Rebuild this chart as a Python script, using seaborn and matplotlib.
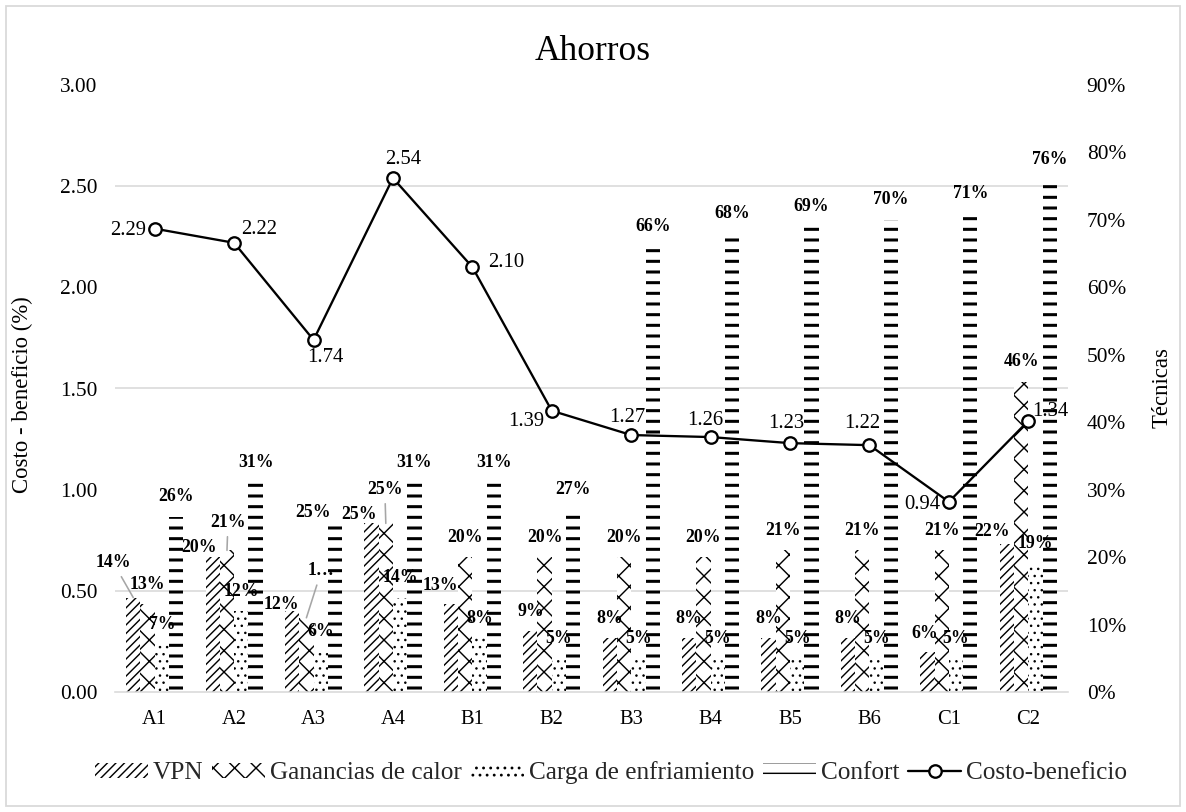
import numpy as np
import pandas as pd
import matplotlib
matplotlib.use("Agg")
import matplotlib.pyplot as plt
import seaborn as sns
from matplotlib.patches import Rectangle
from matplotlib.lines import Line2D
from matplotlib.ticker import MultipleLocator, FuncFormatter

# --- data -----------------------------------------------------------------
categorias = ["A1", "A2", "A3", "A4", "B1", "B2", "B3", "B4", "B5", "B6", "C1", "C2"]
vpn = [14, 20, 12, 25, 13, 9, 8, 8, 8, 8, 6, 22]
ganancias = [13, 21, 11, 25, 20, 20, 20, 20, 21, 21, 21, 46]
carga = [7, 12, 6, 14, 8, 5, 5, 5, 5, 5, 5, 19]
confort = [26, 31, 25, 31, 31, 27, 66, 68, 69, 70, 71, 76]
costo_beneficio = [2.29, 2.22, 1.74, 2.54, 2.10, 1.39, 1.27, 1.26, 1.23, 1.22, 0.94, 1.34]

series = ["VPN", "Ganancias de calor", "Carga de enfriamiento", "Confort"]
valores = dict(zip(series, [vpn, ganancias, carga, confort]))

# --- style ----------------------------------------------------------------
sns.set_theme(style="white")
plt.rcParams["font.family"] = ["Liberation Serif", "DejaVu Serif"]
plt.rcParams["hatch.linewidth"] = 0.8

DPI = 128
W, H = 1186, 812
PX = 72 / DPI  # one pixel in points
L, R, T, B = 115, 1068, 85, 692
GRID = "#d9d9d9"

fig = plt.figure(figsize=(W / DPI, H / DPI), dpi=DPI)
fig.patch.set_facecolor("white")
ax = fig.add_axes([L / W, 1 - B / H, (R - L) / W, (B - T) / H])
ax2 = ax.twinx()

# --- bars (right axis) ----------------------------------------------------
df = pd.DataFrame({
    "Técnica": np.tile(categorias, len(series)),
    "Serie": np.repeat(series, len(categorias)),
    "Valor": np.concatenate([valores[s] for s in series]),
})
sns.barplot(data=df, x="Técnica", y="Valor", hue="Serie", order=categorias,
            hue_order=series, palette={s: "white" for s in series},
            saturation=1, width=0.72, gap=0, errorbar=None, legend=False, ax=ax2)

tramas = {"VPN": ("/////", 0.8), "Ganancias de calor": ("xx", 0.8),
          "Carga de enfriamiento": ("...", 0.6), "Confort": ("--", 1.7)}
for cont, s in zip(ax2.containers, series):
    h, lw = tramas[s]
    for bar in cont.patches:
        bar.set_facecolor("white")
        bar.set_edgecolor("black")
        bar.set_linewidth(0)
        bar.set_hatch(h)
        if hasattr(bar, "set_hatch_linewidth"):
            bar.set_hatch_linewidth(lw)

# label placement tweaks (pixel offsets, leader line)
ajustes = {
    ("A1", "VPN"): (-20, 35, True),
    ("A2", "VPN"): (-14, 10, False),
    ("A2", "Ganancias de calor"): (1, 28, True),
    ("A3", "VPN"): (-11, 7, False),
    ("A3", "Ganancias de calor"): (15, 47, True),
    ("A3", "Confort"): (-22, 11, False),
    ("A4", "VPN"): (-13, 9, False),
    ("A4", "Ganancias de calor"): (-1, 34, True),
    ("B1", "VPN"): (-11, 19, False),
    ("C1", "VPN"): (-3, 18, False),
    ("C2", "VPN"): (-15, 12, False),
}
textos = {("A3", "Ganancias de calor"): "1…"}

for cont, s in zip(ax2.containers, series):
    for cat, bar, v in zip(categorias, cont.patches, valores[s]):
        x = bar.get_x() + bar.get_width() / 2
        dx, dy, guia = ajustes.get((cat, s), (0, 20, False))
        ax2.annotate(textos.get((cat, s), f"{v}%"), xy=(x, v),
                     xytext=(dx * PX, dy * PX), textcoords="offset points",
                     ha="center", va="center", fontsize=10, fontweight="bold",
                     color="black", zorder=6,
                     arrowprops=(dict(arrowstyle="-", color="#a6a6a6", lw=0.9,
                                      shrinkA=1, shrinkB=0) if guia else None))

# --- line (left axis) -----------------------------------------------------
sns.pointplot(x=categorias, y=costo_beneficio, order=categorias, color="black",
              markers="o", linestyles="-", errorbar=None, ax=ax)
for ln in ax.lines:
    ln.set_linewidth(1.3)
    ln.set_markersize(7)
    ln.set_markerfacecolor("white")
    ln.set_markeredgecolor("black")
    ln.set_markeredgewidth(1.3)
    ln.set_zorder(4)

etiquetas_linea = {  # pixel offsets and alignment
    "A1": (-9, -2, "right"), "A2": (7, 13, "left"), "A3": (12, -18, "center"),
    "A4": (10, 19, "center"), "B1": (16, 5, "left"), "B2": (-26, -11, "center"),
    "B3": (-4, 18, "center"), "B4": (-5, 17, "center"), "B5": (-4, 20, "center"),
    "B6": (-7, 22, "center"), "C1": (-8, -3, "right"), "C2": (4, 9, "left"),
}
for i, (cat, v) in enumerate(zip(categorias, costo_beneficio)):
    dx, dy, ha = etiquetas_linea[cat]
    ax.annotate(f"{v:.2f}", xy=(i, v), xytext=(dx * PX, dy * PX),
                textcoords="offset points", ha=ha, va="center",
                fontsize=11.6, color="black", zorder=7)

# --- axes -----------------------------------------------------------------
ax.set_ylim(0, 3)
ax2.set_ylim(0, 90)
ax.set_xlim(-0.5, len(categorias) - 0.5)
ax.set_zorder(ax2.get_zorder() + 1)
ax.patch.set_visible(False)
ax2.patch.set_facecolor("white")

ax.yaxis.set_major_locator(MultipleLocator(0.5))
ax.yaxis.set_major_formatter(FuncFormatter(lambda v, _: f"{v:.2f}"))
ax2.yaxis.set_major_locator(MultipleLocator(10))
ax2.yaxis.set_major_formatter(FuncFormatter(lambda v, _: f"{v:.0f}%"))
ax2.yaxis.set_minor_locator(MultipleLocator(15))

ax.grid(False)
ax2.grid(False)
ax2.grid(which="minor", axis="y", color=GRID, linewidth=0.9)
ax2.set_axisbelow(True)

ax.tick_params(axis="both", length=0, colors="black")
ax.tick_params(axis="y", pad=10, labelsize=12)
ax.tick_params(axis="x", pad=10, labelsize=11.5)
ax2.tick_params(axis="y", which="both", length=0, labelsize=12, pad=10.5, colors="black")

for a in (ax, ax2):
    for sp in a.spines.values():
        sp.set_visible(False)
ax.spines["bottom"].set_visible(True)
ax.spines["bottom"].set_color(GRID)
ax.spines["bottom"].set_linewidth(0.9)

ax.set_xlabel("")
ax2.set_xlabel("")
ax.set_ylabel("Costo - beneficio (%)", fontsize=12.8, color="black")
ax2.set_ylabel("Técnicas", fontsize=12.8, color="black", rotation=90)
ax.yaxis.set_label_coords(33 / W, 1 - 395 / H, transform=fig.transFigure)
ax2.yaxis.set_label_coords(1152 / W, 1 - 388 / H, transform=fig.transFigure)

fig.text(0.5, 1 - 52 / H, "Ahorros", ha="center", va="center", fontsize=19.8, color="black")

# --- legend ---------------------------------------------------------------
handles = []
for s in series:
    h, lw = tramas[s]
    p = Rectangle((0, 0), 1, 1, facecolor="white", edgecolor="black", linewidth=0, hatch=h)
    if hasattr(p, "set_hatch_linewidth"):
        p.set_hatch_linewidth(lw)
    handles.append(p)
handles.append(Line2D([], [], color="black", linewidth=1.3, marker="o", markersize=7,
                      markerfacecolor="white", markeredgecolor="black", markeredgewidth=1.3))
fig.legend(handles, series + ["Costo-beneficio"], loc="center",
           bbox_to_anchor=(611 / W, 1 - 773 / H), ncol=5, frameon=False, fontsize=14.2,
           handlelength=2.1, handleheight=0.5, handletextpad=0.2, columnspacing=0.35)

# figure frame
fig.patches.append(Rectangle((6 / W, 6 / H), 1 - 12 / W, 1 - 12 / H, transform=fig.transFigure,
                             fill=False, edgecolor=GRID, linewidth=1.0))

fig.savefig("out.png", dpi=DPI, facecolor="white")
